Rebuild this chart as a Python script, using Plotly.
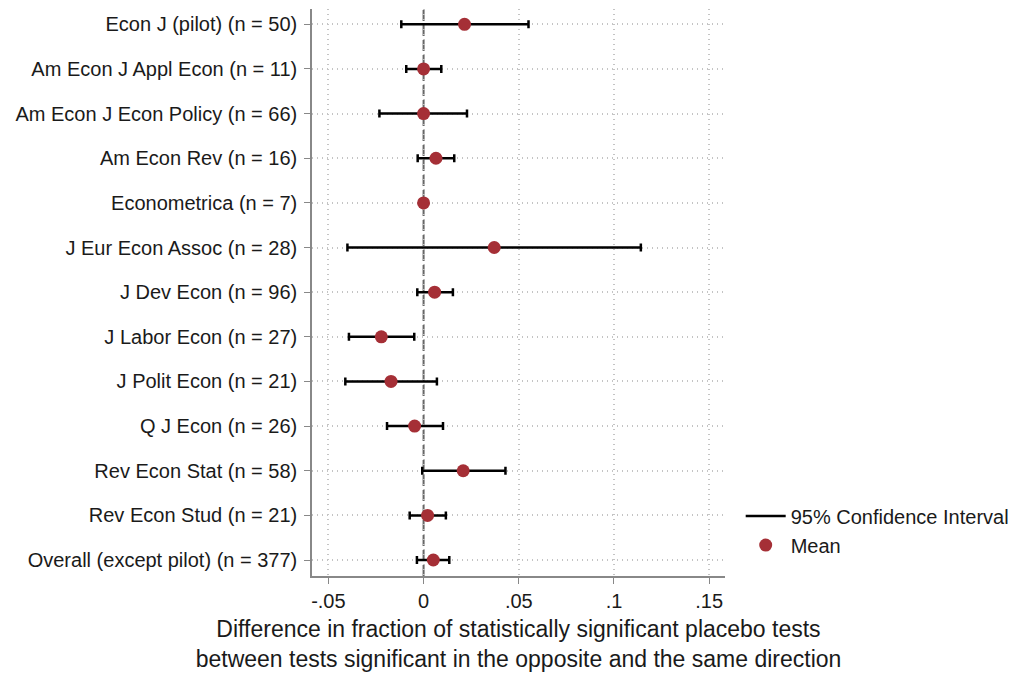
import plotly.graph_objects as go

journals = [
    "Econ J (pilot) (n = 50)",
    "Am Econ J Appl Econ (n = 11)",
    "Am Econ J Econ Policy (n = 66)",
    "Am Econ Rev (n = 16)",
    "Econometrica (n = 7)",
    "J Eur Econ Assoc (n = 28)",
    "J Dev Econ (n = 96)",
    "J Labor Econ (n = 27)",
    "J Polit Econ (n = 21)",
    "Q J Econ (n = 26)",
    "Rev Econ Stat (n = 58)",
    "Rev Econ Stud (n = 21)",
    "Overall (except pilot) (n = 377)",
]
mean = [0.0215, 0.0, 0.0, 0.0065, 0.0, 0.0371, 0.0058, -0.0222, -0.0171, -0.0047, 0.0208, 0.0021, 0.0051]
ci_low = [-0.0117, -0.0091, -0.0232, -0.0031, 0.0, -0.0400, -0.0033, -0.0392, -0.0411, -0.0192, -0.0007, -0.0073, -0.0035]
ci_high = [0.0551, 0.0093, 0.0228, 0.0161, 0.0, 0.1141, 0.0154, -0.0049, 0.0070, 0.0102, 0.0430, 0.0117, 0.0135]

x_ticks = [-0.05, 0, 0.05, 0.1, 0.15]
x_ticktext = ["-.05", "0", ".05", ".1", ".15"]

FONT = "Arial, Liberation Sans, sans-serif"
RED = "#A52F36"

fig = go.Figure()

# CI (error bars only)
fig.add_trace(go.Scatter(
    x=mean, y=journals, mode="markers",
    marker=dict(size=13, color="rgba(0,0,0,0)"),
    error_x=dict(type="data", symmetric=False,
                 array=[h - m for h, m in zip(ci_high, mean)],
                 arrayminus=[m - l for m, l in zip(mean, ci_low)],
                 color="black", thickness=2.5, width=4),
    showlegend=False, hoverinfo="skip",
))
# legend entry for CI
fig.add_trace(go.Scatter(
    x=[None], y=[None], mode="lines",
    line=dict(color="black", width=2.5),
    name="95% Confidence Interval",
))
# Means
fig.add_trace(go.Scatter(
    x=mean, y=journals, mode="markers",
    marker=dict(size=13, color=RED),
    name="Mean",
))

fig.add_shape(type="line", x0=0, x1=0, y0=0, y1=1, xref="x", yref="paper",
              line=dict(color="#666666", width=2, dash="11px,4px"), layer="below")

fig.update_layout(
    width=1019, height=675,
    margin=dict(l=312, r=294, t=9, b=99, autoexpand=False),
    paper_bgcolor="white", plot_bgcolor="white",
    font=dict(family=FONT, size=20, color="#1a1a1a"),
    legend=dict(x=1.038, y=0.14, xanchor="left", yanchor="top",
                font=dict(size=20), bgcolor="rgba(0,0,0,0)", tracegroupgap=0,
                itemwidth=40),
)
fig.update_xaxes(
    range=[-0.0586, 0.1583],
    tickvals=x_ticks, ticktext=x_ticktext,
    showgrid=True, gridcolor="#c4c4c4", griddash="1px,4px", gridwidth=1.5,
    showline=True, linecolor="#888888", linewidth=1.5,
    ticks="outside", ticklen=6, tickcolor="#888888", tickwidth=1.2,
    zeroline=False,
    title=dict(text="Difference in fraction of statistically significant placebo tests<br>between tests significant in the opposite and the same direction",
               font=dict(size=23), standoff=10),
)
fig.update_yaxes(
    type="category", categoryorder="array", categoryarray=journals,
    range=[12.358, -0.343],
    showgrid=True, gridcolor="#c4c4c4", griddash="1px,4px", gridwidth=1.5,
    showline=True, linecolor="#888888", linewidth=1.5,
    ticks="outside", ticklen=6, tickcolor="#888888", tickwidth=1.2,
    zeroline=False, ticklabelstandoff=3,
)

fig.write_html("out.html")
